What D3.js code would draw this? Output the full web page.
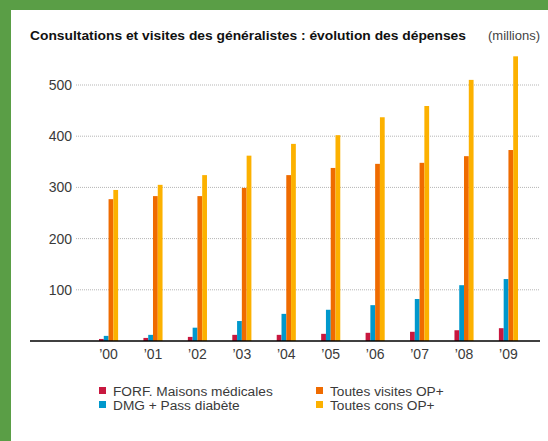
<!DOCTYPE html>
<html>
<head>
<meta charset="utf-8">
<script src="https://cdn.jsdelivr.net/npm/d3@7"></script>
<style>
  body { margin: 0; background: #5a9e46; }
  #container { position: absolute; left: 11px; top: 10px; width: 537px; height: 431px; background: #fff; }
  svg { font-family: "Liberation Sans", Arial, sans-serif; }
</style>
</head>
<body>
<div id="container"></div>
<script>
// data (millions)
var years = ["’00", "’01", "’02", "’03", "’04", "’05", "’06", "’07", "’08", "’09"]
var seriesNames = ["FORF. Maisons médicales", "DMG + Pass diabète", "Toutes visites OP+", "Toutes cons OP+"]
var forf = [4, 6, 8, 12, 12, 14, 16, 18, 21, 25]
var dmg = [10, 12, 26, 39, 53, 61, 70, 82, 109, 121]
var visites = [277, 283, 283, 299, 324, 338, 346, 348, 361, 373]
var cons = [295, 305, 324, 362, 385, 402, 437, 459, 510, 556]
var yTicks = [100, 200, 300, 400, 500]
var colors = ["#c8183f", "#0098cc", "#ef6b00", "#fcb100"]

var allSeries = [forf, dmg, visites, cons]

// offsets inside the white panel (panel starts at 11,10)
var ox = 11, oy = 10

var svg = d3.select("#container")
  .append("svg")
  .attr("width", 537)
  .attr("height", 431)

var g = svg.append("g")
  .attr("transform", `translate(${-ox}, ${-oy})`)

// title
g.append("text")
  .attr("x", 30)
  .attr("y", 40)
  .attr("font-size", 13.4)
  .attr("font-weight", "bold")
  .attr("fill", "#111")
  .attr("textLength", 436)
  .attr("lengthAdjust", "spacingAndGlyphs")
  .text("Consultations et visites des généralistes : évolution des dépenses")

g.append("text")
  .attr("x", 540)
  .attr("y", 40)
  .attr("text-anchor", "end")
  .attr("font-size", 13)
  .attr("fill", "#444")
  .text("(millions)")

// scales
var x = d3.scaleBand()
  .domain(years)
  .range([99, 518])
  .paddingInner(0.57)
  .paddingOuter(0)

var xSub = d3.scaleBand()
  .domain(d3.range(4))
  .range([0, x.bandwidth()])

var y = d3.scaleLinear()
  .domain([0, 100])
  .range([341, 289.8])

// gridlines
g.selectAll(".grid")
  .data(yTicks)
  .enter().append("line")
  .attr("class", "grid")
  .attr("x1", 76)
  .attr("x2", 540)
  .attr("y1", d => y(d))
  .attr("y2", d => y(d))
  .attr("stroke", "#b5b5b5")
  .attr("stroke-width", 1)
  .attr("stroke-dasharray", "1,1")

// y labels
g.selectAll(".ylab")
  .data(yTicks)
  .enter().append("text")
  .attr("class", "ylab")
  .attr("x", 72)
  .attr("y", d => y(d) + 5)
  .attr("text-anchor", "end")
  .attr("font-size", 14)
  .attr("fill", "#3a3a3a")
  .text(d => d)

// bars
var groups = g.selectAll(".year")
  .data(years)
  .enter().append("g")
  .attr("class", "year")
  .attr("transform", d => `translate(${x(d)}, 0)`)

groups.selectAll("rect")
  .data((d, i) => allSeries.map((s, k) => ({k: k, v: s[i]})))
  .enter().append("rect")
  .attr("x", d => xSub(d.k))
  .attr("width", xSub.bandwidth())
  .attr("y", d => y(d.v))
  .attr("height", d => y(0) - y(d.v))
  .attr("fill", d => colors[d.k])

// x axis line
g.append("line")
  .attr("x1", 30)
  .attr("x2", 540)
  .attr("y1", 341)
  .attr("y2", 341)
  .attr("stroke", "#000")
  .attr("stroke-width", 1.5)

g.selectAll(".xlab")
  .data(years)
  .enter().append("text")
  .attr("class", "xlab")
  .attr("x", d => x(d) + x.bandwidth() / 2)
  .attr("y", 359)
  .attr("text-anchor", "middle")
  .attr("font-size", 14)
  .attr("fill", "#3a3a3a")
  .text(d => d)

// legend
var legendPos = [[99, 387], [99, 401], [316, 387], [316, 401]]
var legend = g.selectAll(".legend")
  .data(seriesNames)
  .enter().append("g")
  .attr("class", "legend")
  .attr("transform", (d, i) => `translate(${legendPos[i][0]}, ${legendPos[i][1]})`)

legend.append("rect")
  .attr("width", 7)
  .attr("height", 7)
  .attr("fill", (d, i) => colors[i])

legend.append("text")
  .attr("x", 14)
  .attr("y", 8.5)
  .attr("font-size", 13.7)
  .attr("fill", "#3a3a3a")
  .text(d => d)
</script>
</body>
</html>
